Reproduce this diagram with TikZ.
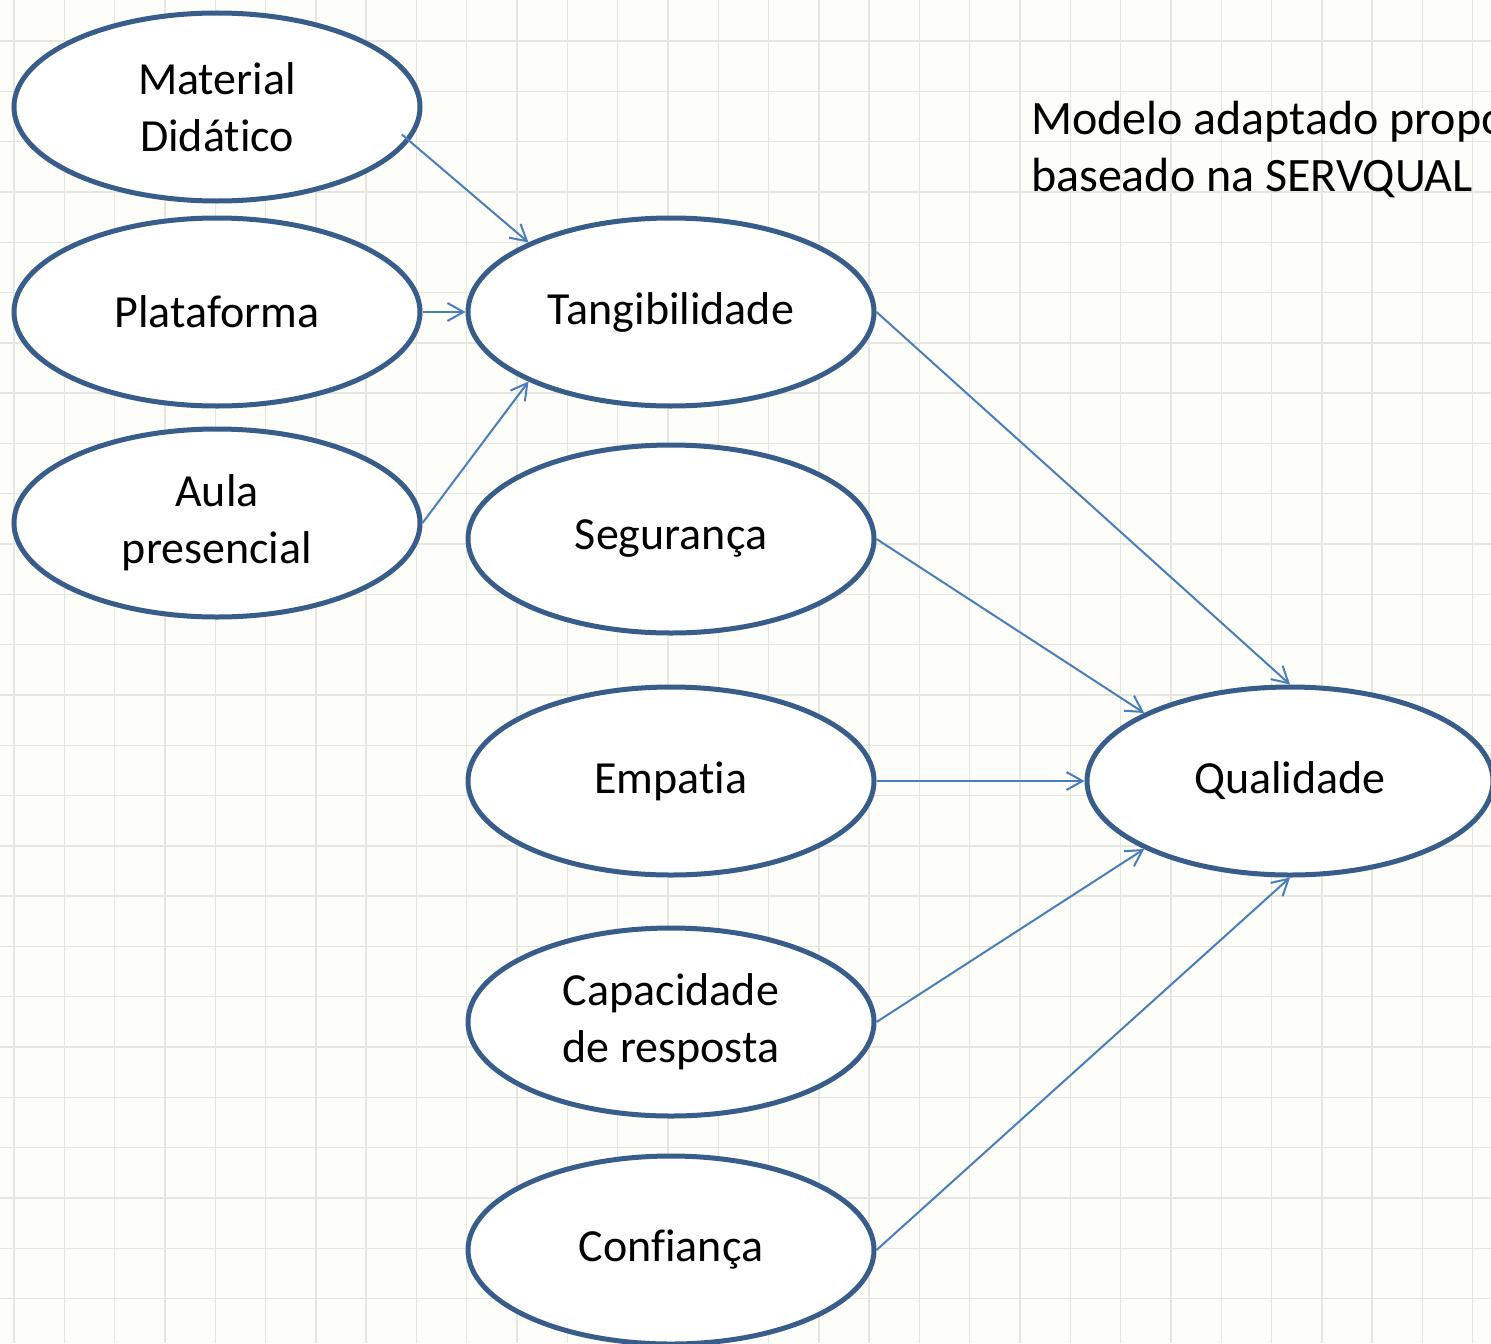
\documentclass[tikz,border=0pt]{standalone}
\usepackage{fontspec}
\setmainfont{Carlito}[Ligatures=NoCommon]
\usetikzlibrary{shapes.geometric,arrows.meta}
\definecolor{borda}{HTML}{385D8A}
\definecolor{azulseta}{HTML}{4A7EBB}
\definecolor{fundo}{HTML}{FDFDF9}
\definecolor{grade}{HTML}{E5E5E1}

\begin{document}
\begin{tikzpicture}[x=0.5pt,y=-0.5pt,
	elipse/.style={ellipse,draw=borda,fill=white,line width=2.5pt,minimum width=203pt,minimum height=94pt,inner sep=0pt,align=center,font=\fontsize{23}{28.5}\selectfont},
	liga/.style={draw=azulseta,line width=1pt,-{Straight Barb[length=8pt,width=9pt]}}]
	\useasboundingbox(0,0)rectangle(1491,1343);
	\clip(0,0)rectangle(1491,1343);
	\fill[fundo](0,0)rectangle(1491,1343);
	\foreach \i in {0,...,29} \draw[grade,line width=0.7pt](14+50.3*\i,0)--(14+50.3*\i,1343);
	\foreach \i in {0,...,26} \draw[grade,line width=0.7pt](0,41+50.3*\i)--(1491,41+50.3*\i);
	\node[elipse](mat)at(217,107){Material\\Didático};
	\node[elipse](pla)at(217,312){Plataforma};
	\node[elipse](aul)at(217,523){Aula\\presencial};
	\node[elipse](tan)at(671,312){Tangibilidade};
	\node[elipse](seg)at(671,539){Segurança};
	\node[elipse](emp)at(671,781){Empatia};
	\node[elipse](cap)at(671,1022){Capacidade\\de resposta};
	\node[elipse](con)at(671,1250){Confiança};
	\node[elipse](qua)at(1290,781){Qualidade};
	\node[anchor=west,align=left,font=\fontsize{24}{28.5}\selectfont](titulo)at(1024,150){Modelo adaptado proposto\\baseado na SERVQUAL};
	\draw[liga,shorten <=-5pt](mat.-10)--(tan.154);
	\draw[liga](pla.east)--(tan.west);
	\draw[liga](aul.east)--(tan.206);
	\draw[liga](tan.east)--(qua.north);
	\draw[liga](seg.east)--(qua.155);
	\draw[liga](emp.east)--(qua.west);
	\draw[liga](cap.east)--(qua.205);
	\draw[liga](con.east)--(qua.south);
\end{tikzpicture}
\end{document}
